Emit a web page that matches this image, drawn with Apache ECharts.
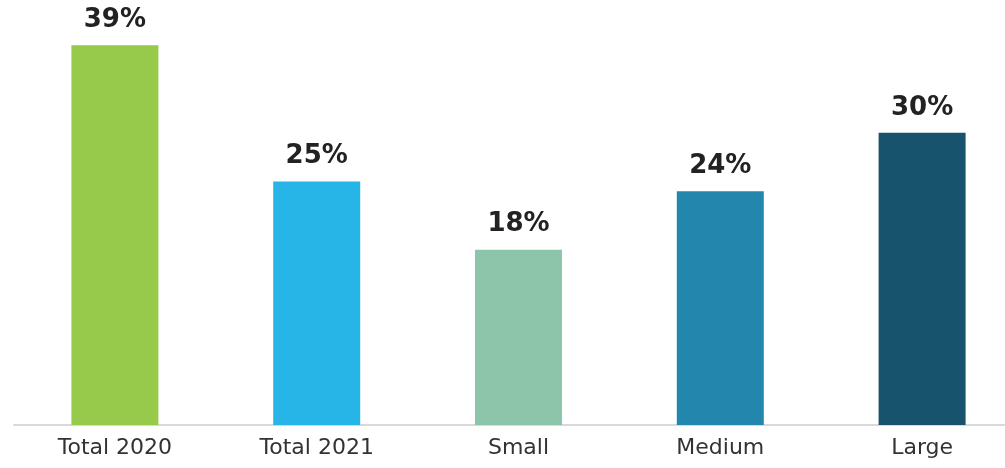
<!DOCTYPE html>
<html>
<head>
<meta charset="utf-8">
<style>html,body{margin:0;padding:0;background:#fff;overflow:hidden;width:1005px;height:468px;}#c{width:1024px;height:468px;}</style>
<script src="https://cdn.jsdelivr.net/npm/echarts@6/dist/echarts.min.js"></script>
</head>
<body>
<div id="c"></div>
<script>
var categories = ["Total 2020", "Total 2021", "Small", "Medium", "Large"];
var values = [39, 25, 18, 24, 30];
var colors = ["#97c94b", "#27b5e8", "#8dc5aa", "#2386ad", "#17536c"];

var chart = echarts.init(document.getElementById('c'), null, {renderer: 'canvas'});
chart.setOption({
  animation: false,
  grid: {left: 14, top: 35.4, right: 1, bottom: 43, containLabel: false},
  xAxis: {
    type: 'category',
    data: categories,
    axisLine: {lineStyle: {color: '#d9d9d9', width: 2}},
    axisTick: {show: false},
    axisLabel: {fontFamily: 'DejaVu Sans', fontSize: 22, color: '#333', margin: 12}
  },
  yAxis: {type: 'value', min: 0, max: 40, show: false, splitLine: {show: false}},
  series: [{
    type: 'bar',
    barWidth: 87,
    data: values.map(function (v, i) { return {value: v, itemStyle: {color: colors[i]}}; }),
    label: {
      show: true, position: 'top', distance: 12,
      formatter: '{c}%',
      fontFamily: 'DejaVu Sans', fontWeight: 'bold', fontSize: 26, color: '#222'
    }
  }]
});
</script>
</body>
</html>
